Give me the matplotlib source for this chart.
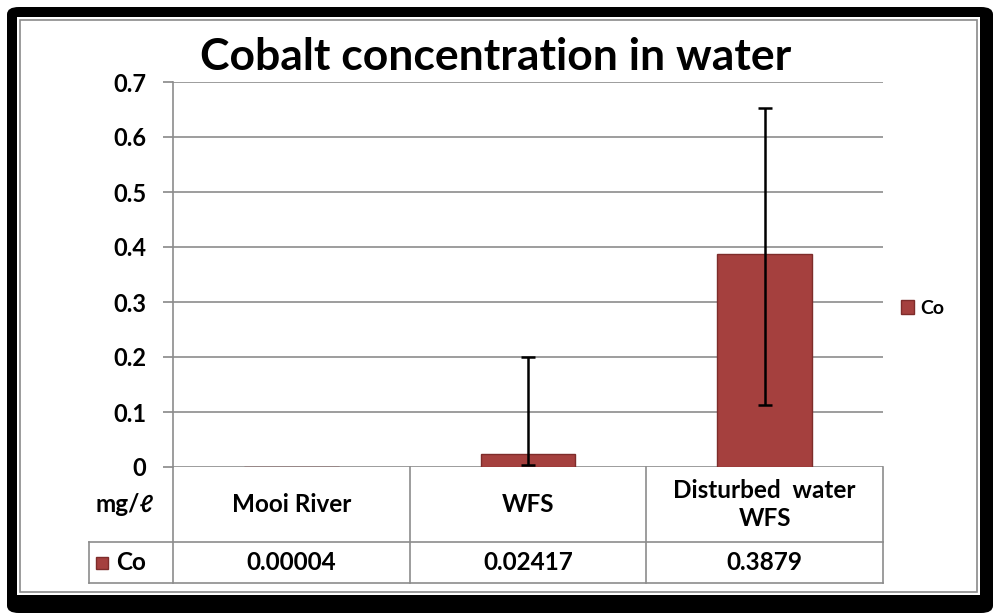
import matplotlib.pyplot as plt
import numpy as np
from matplotlib.patches import Rectangle, FancyBboxPatch
from matplotlib.transforms import blended_transform_factory

categories = ['Mooi River', 'WFS', 'Disturbed  water\nWFS']
co_values = [0.00004, 0.02417, 0.3879]
value_labels = ['0.00004', '0.02417', '0.3879']
err_low = [0.0, 0.021, 0.275]
err_high = [0.0, 0.175, 0.265]
y_ticks = [0, 0.1, 0.2, 0.3, 0.4, 0.5, 0.6, 0.7]

W, H = 993, 613
plt.rcParams['font.family'] = ['Lato', 'DejaVu Sans']
plt.rcParams['font.weight'] = 'bold'
FS = 17.5

fig = plt.figure(figsize=(W / 100, H / 100), dpi=100)


def fx(px):
    return px / W


def fy(py):
    return 1 - py / H


# black frame with white interior
fig.add_artist(FancyBboxPatch((fx(7), 0), 1 - fx(7), fy(7), boxstyle='round,pad=0,rounding_size=0.012',
                              transform=fig.transFigure, facecolor='black', edgecolor='none', zorder=0))
fig.add_artist(Rectangle((fx(17), fy(595)), fx(980) - fx(17), fy(17) - fy(595), transform=fig.transFigure,
                         facecolor='white', edgecolor='none', zorder=0))
fig.add_artist(Rectangle((fx(20), fy(592)), fx(977) - fx(20), fy(20) - fy(592), transform=fig.transFigure,
                         facecolor='none', edgecolor='#8a8a8a', linewidth=1.2, zorder=0))

ax = fig.add_axes([fx(173), fy(467), fx(883) - fx(173), fy(82) - fy(467)])
ax.set_facecolor('none')
x = np.arange(len(categories))
bar_color = '#A5403E'
bars = ax.bar(x, co_values, width=0.4, color=bar_color, edgecolor='#7e2c2a', linewidth=1, label='Co', zorder=3)

mask = np.array(err_high) > 0
ax.errorbar(x[mask], np.array(co_values)[mask],
            yerr=[np.array(err_low)[mask], np.array(err_high)[mask]],
            fmt='none', ecolor='black', elinewidth=1.8, capsize=5, capthick=1.8, zorder=4)

ax.set_xlim(-0.5, 2.5)
ax.set_ylim(0, 0.7)
ax.set_yticks(y_ticks)
ax.set_yticklabels(['0' if t == 0 else f'{t:.1f}' for t in y_ticks], fontsize=17, fontweight='bold')
ax.tick_params(axis='y', length=7, color='#888888', width=1.2, pad=12)
ax.set_xticks([])
ax.grid(axis='y', color='#8c8c8c', linewidth=1.2, zorder=1)
for s in ['top', 'right', 'bottom']:
    ax.spines[s].set_visible(False)
ax.spines['left'].set_color('#8c8c8c')
ax.spines['left'].set_linewidth(1.2)

ax.set_title('Cobalt concentration in water', fontsize=32, fontweight='bold', pad=9, x=0.455)

# data table under the axis
tr = blended_transform_factory(ax.transData, ax.transAxes)
row1 = -(542 - 467) / 385
row2 = -(583 - 467) / 385
left2 = -0.5 - (173 - 89) / (710 / 3)
lc = '#8c8c8c'
lines = [
    ([2.5, 2.5], [0, row2]),
    ([-0.5, -0.5], [0, row2]),
    ([0.5, 0.5], [0, row2]),
    ([1.5, 1.5], [0, row2]),
    ([left2, 2.5], [row1, row1]),
    ([left2, 2.5], [row2, row2]),
    ([left2, left2], [row1, row2]),
]
for xs, ys in lines:
    ax.plot(xs, ys, color=lc, linewidth=1.2, transform=tr, clip_on=False)

for i, cat in enumerate(categories):
    ax.text(i, row1 / 2, cat, ha='center', va='center', fontsize=FS, fontweight='bold',
            transform=tr, linespacing=1.3)
    ax.text(i, (row1 + row2) / 2, value_labels[i], ha='center', va='center', fontsize=FS,
            fontweight='bold', transform=tr)

ax.text(-0.5 - (173 - 125) / (710 / 3), row1 / 2, 'mg/ℓ', ha='center', va='center', fontsize=FS,
        fontweight='bold', transform=tr)
ax.plot([-0.5 - (173 - 102) / (710 / 3)], [(row1 + row2) / 2], marker='s', markersize=8.5,
        color=bar_color, markeredgecolor='#7e2c2a', transform=tr, clip_on=False)
ax.text(-0.5 - (173 - 116) / (710 / 3), (row1 + row2) / 2, 'Co', ha='left', va='center', fontsize=FS,
        fontweight='bold', transform=tr)

fig.legend(handles=[bars], labels=['Co'], loc='center left', bbox_to_anchor=(fx(883), fy(308)),
           frameon=False, fontsize=14, handlelength=0.7, handleheight=0.7, handletextpad=0.3)

fig.savefig('out.png', dpi=100)
